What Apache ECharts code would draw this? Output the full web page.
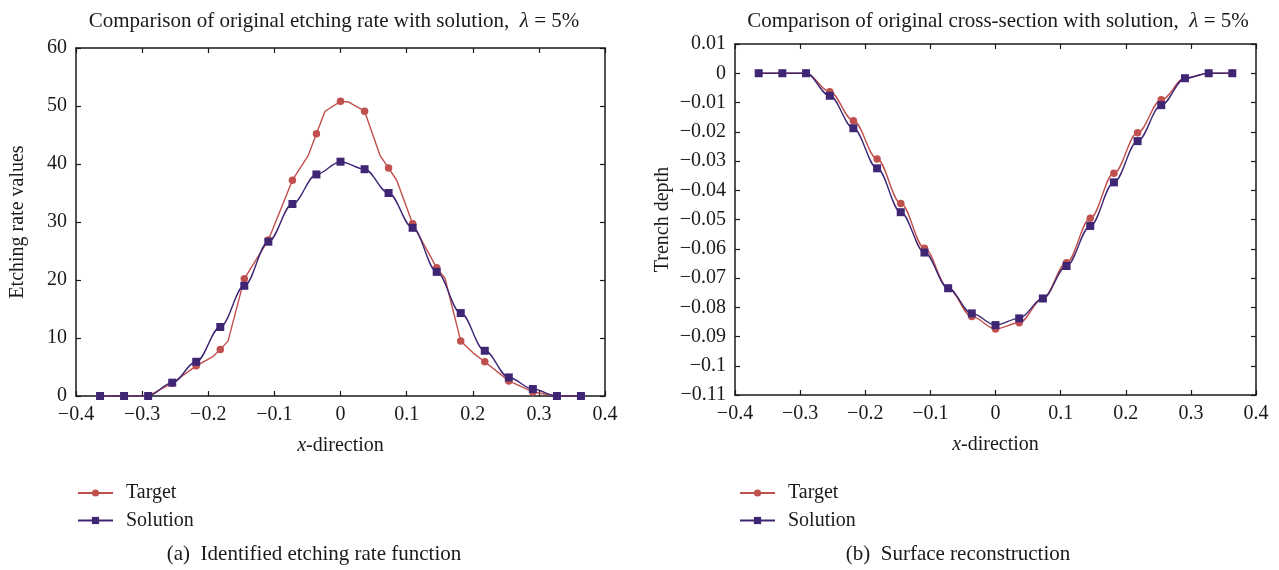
<!DOCTYPE html>
<html>
<head>
<meta charset="utf-8">
<script src="https://cdn.jsdelivr.net/npm/echarts@6/dist/echarts.min.js"></script>
<style>
  html, body { margin: 0; padding: 0; background: #fff; }
  #chart { width: 1279px; height: 570px; }
</style>
</head>
<body>
<div id="chart"></div>
<script>
// marker grid: x = k * 0.4 / 11
const xGrid = [-0.3636, -0.3273, -0.2909, -0.2545, -0.2182, -0.1818, -0.1455, -0.1091, -0.0727, -0.0364, 0,
  0.0364, 0.0727, 0.1091, 0.1455, 0.1818, 0.2182, 0.2545, 0.2909, 0.3273, 0.3636];

// (a) etching rate, target line has a few extra bends between markers
const targetRateX = [-0.3636, -0.3273, -0.2909, -0.2545, -0.2182, -0.193, -0.1818, -0.170, -0.1455, -0.1091,
  -0.0727, -0.0487, -0.0364, -0.0234, 0, 0.0118, 0.0364, 0.0597, 0.0727, 0.085, 0.1091, 0.1455, 0.158,
  0.1818, 0.2008, 0.2182, 0.2545, 0.2909, 0.3273, 0.3636];
const targetRateY = [0, 0, 0, 2.2, 5.2, 6.8, 8.0, 9.5, 20.2, 26.9,
  37.2, 41.5, 45.2, 49.1, 50.8, 50.7, 49.1, 41.5, 39.3, 37.2, 29.7, 22.1, 20.3,
  9.5, 7.4, 5.9, 2.6, 0.7, 0, 0];
const solutionRate = [0, 0, 0, 2.3, 5.9, 11.9, 19.0, 26.6, 33.1, 38.2, 40.4,
  39.1, 35.0, 29.0, 21.4, 14.3, 7.8, 3.2, 1.2, 0, 0];

// (b) trench depth
const targetDepth = [0, 0, 0, -0.0063, -0.0162, -0.0293, -0.0445, -0.0598, -0.0735, -0.0832, -0.0874,
  -0.0853, -0.0770, -0.0648, -0.0496, -0.0342, -0.0203, -0.0091, -0.0017, 0, 0];
const solutionDepth = [0, 0, 0, -0.0077, -0.0188, -0.0325, -0.0475, -0.0613, -0.0735, -0.0821, -0.0861,
  -0.0838, -0.0770, -0.0659, -0.0522, -0.0373, -0.0232, -0.0109, -0.0017, 0, 0];

const xTicks = { min: -0.4, max: 0.4, interval: 0.1 };
const rateTicks = { min: 0, max: 60, interval: 10 };
const depthTicks = { min: -0.11, max: 0.01, interval: 0.01 };

const RED = '#c0504d';
const PURPLE = '#3f2675';
const INK = '#1a1a1a';
const FONT = '"Liberation Serif", "DejaVu Serif", serif';

const chart = echarts.init(document.getElementById('chart'), null, { renderer: 'canvas' });

const fmt = v => String(Math.round(v * 100) / 100).replace('-', '\u2212');

function onGrid(x) {
  const k = x * 11 / 0.4;
  return Math.abs(k - Math.round(k)) < 0.01;
}

function axis(ticks, gridIndex, position, withLabels, extra) {
  return Object.assign({
    type: 'value',
    gridIndex: gridIndex,
    position: position,
    min: ticks.min,
    max: ticks.max,
    interval: ticks.interval,
    axisLine: { show: true, onZero: false, lineStyle: { color: INK, width: 1.5 } },
    axisTick: { show: true, inside: true, length: 5, lineStyle: { color: INK, width: 1.2 } },
    axisLabel: {
      show: withLabels, formatter: fmt, color: INK,
      fontFamily: FONT, fontSize: 20, margin: 9
    },
    splitLine: { show: false }
  }, extra || {});
}

const nameStyle = { color: INK, fontFamily: FONT, fontSize: 20 };
const xName = {
  name: '{i|x}-direction', nameLocation: 'middle', nameGap: 40,
  nameTextStyle: Object.assign({ rich: { i: { fontStyle: 'italic', fontSize: 20, fontFamily: FONT, color: INK } } }, nameStyle)
};

function legendAt(left) {
  return {
    left: left, top: 483, padding: 0, orient: 'vertical', itemWidth: 35, itemHeight: 9, itemGap: 7.5,
    data: ['Target', 'Solution'],
    textStyle: { color: INK, fontFamily: FONT, fontSize: 20, padding: [0, 0, 0, 8] }
  };
}

function textAt(x, y, text) {
  return {
    type: 'text', x: x, y: y,
    style: {
      text: text,
      rich: { i: { fontStyle: 'italic', fontFamily: FONT, fontSize: 21, fill: INK } },
      fontFamily: FONT, fontSize: 21, fill: INK, align: 'center', verticalAlign: 'middle'
    }
  };
}

const option = {
  backgroundColor: '#fff',
  animation: false,
  textStyle: { fontFamily: FONT },
  grid: [
    { left: 76, top: 48, width: 529, height: 348 },
    { left: 735, top: 44, width: 521, height: 351 }
  ],
  xAxis: [
    axis(xTicks, 0, 'bottom', true, xName),
    axis(xTicks, 0, 'top', false),
    axis(xTicks, 1, 'bottom', true, xName),
    axis(xTicks, 1, 'top', false)
  ],
  yAxis: [
    axis(rateTicks, 0, 'left', true, {
      name: 'Etching rate values', nameLocation: 'middle', nameGap: 48, nameTextStyle: nameStyle
    }),
    axis(rateTicks, 0, 'right', false),
    axis(depthTicks, 1, 'left', true, {
      name: 'Trench depth', nameLocation: 'middle', nameGap: 62, nameTextStyle: nameStyle
    }),
    axis(depthTicks, 1, 'right', false)
  ],
  legend: [legendAt(77), legendAt(739)],
  graphic: [
    textAt(334, 21, 'Comparison of original etching rate with solution,  {i|\u03bb} = 5%'),
    textAt(998, 21, 'Comparison of original cross-section with solution,  {i|\u03bb} = 5%'),
    textAt(314, 554, '(a)  Identified etching rate function'),
    textAt(958, 554, '(b)  Surface reconstruction')
  ],
  series: [
    {
      name: 'Target', type: 'line', xAxisIndex: 0, yAxisIndex: 0,
      data: targetRateX.map((x, i) => onGrid(x) ? [x, targetRateY[i]] : { value: [x, targetRateY[i]], symbol: 'none' }),
      symbol: 'circle', symbolSize: 7.5,
      itemStyle: { color: RED }, lineStyle: { color: RED, width: 1.4 }
    },
    {
      name: 'Solution', type: 'line', xAxisIndex: 0, yAxisIndex: 0,
      data: xGrid.map((x, i) => [x, solutionRate[i]]),
      smooth: 0.35, smoothMonotone: 'x',
      symbol: 'rect', symbolSize: 8,
      itemStyle: { color: PURPLE }, lineStyle: { color: PURPLE, width: 1.4 }
    },
    {
      name: 'Target', type: 'line', xAxisIndex: 2, yAxisIndex: 2,
      data: xGrid.map((x, i) => [x, targetDepth[i]]),
      smooth: 0.35, smoothMonotone: 'x',
      symbol: 'circle', symbolSize: 7.5,
      itemStyle: { color: RED }, lineStyle: { color: RED, width: 1.4 }
    },
    {
      name: 'Solution', type: 'line', xAxisIndex: 2, yAxisIndex: 2,
      data: xGrid.map((x, i) => [x, solutionDepth[i]]),
      smooth: 0.35, smoothMonotone: 'x',
      symbol: 'rect', symbolSize: 8,
      itemStyle: { color: PURPLE }, lineStyle: { color: PURPLE, width: 1.4 }
    }
  ]
};

chart.setOption(option);
window.addEventListener('resize', () => chart.resize());
</script>
</body>
</html>
